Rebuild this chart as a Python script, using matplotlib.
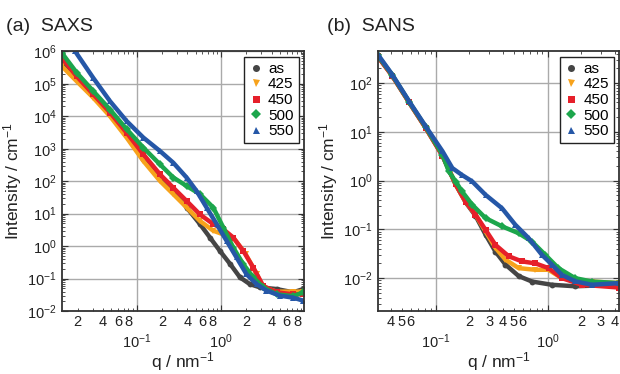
import math
import matplotlib
matplotlib.use("Agg")
import matplotlib.pyplot as plt
from matplotlib.ticker import LogLocator, FuncFormatter, LogFormatterSciNotation

plt.rcParams['font.family'] = ['Liberation Sans', 'DejaVu Sans']
plt.rcParams['mathtext.fontset'] = 'custom'
plt.rcParams['mathtext.rm'] = 'Liberation Sans'
plt.rcParams['mathtext.it'] = 'Liberation Sans:italic'

labels = ['as', '425', '450', '500', '550']
colors = ['#454545', '#f7a21b', '#e6202a', '#1ca64c', '#2557a7']
markers = ['o', 'v', 's', 'D', '^']

# ---- SAXS data (q in nm^-1, I in cm^-1)
saxs_q = {
    'as':  [0.0129, 0.0194, 0.0306, 0.0483, 0.076, 0.12, 0.189, 0.272, 0.392, 0.563, 0.74, 0.97, 1.29, 1.68, 2.2, 2.9, 4.57, 7.2, 9.5],
    '425': [0.0129, 0.0194, 0.0306, 0.0483, 0.076, 0.12, 0.189, 0.272, 0.392, 0.563, 0.81, 1.07, 1.40, 1.97, 2.65, 3.17, 4.57, 7.2, 9.5],
    '450': [0.0129, 0.0194, 0.0306, 0.0483, 0.076, 0.12, 0.189, 0.272, 0.392, 0.563, 0.81, 1.07, 1.40, 1.84, 2.42, 3.17, 4.57, 7.2, 9.5],
    '500': [0.0129, 0.0194, 0.0306, 0.0483, 0.076, 0.12, 0.189, 0.272, 0.392, 0.563, 0.81, 1.07, 1.40, 1.84, 2.42, 3.17, 4.57, 7.2, 9.5],
    '550': [0.0186, 0.0306, 0.0483, 0.076, 0.12, 0.189, 0.272, 0.392, 0.514, 0.675, 0.889, 1.17, 1.53, 2.01, 2.65, 3.47, 5.0, 7.2, 9.5],
}
saxs_i = {
    'as':  [5.0e5, 1.35e5, 4.2e4, 1.15e4, 2.45e3, 470, 129, 50, 15.5, 4.8, 1.85, 0.72, 0.28, 0.11, 0.068, 0.054, 0.048, 0.038, 0.048],
    '425': [3.5e5, 1.2e5, 3.7e4, 1.0e4, 2.2e3, 420, 102, 40, 15.5, 6.0, 3.0, 2.3, 1.85, 0.56, 0.14, 0.054, 0.040, 0.040, 0.040],
    '450': [6.3e5, 1.7e5, 4.7e4, 1.3e4, 3.1e3, 675, 163, 63, 24.6, 9.5, 4.8, 3.3, 1.85, 0.72, 0.22, 0.060, 0.038, 0.033, 0.033],
    '500': [9.0e5, 2.2e5, 5.9e4, 1.6e4, 4.0e3, 1.08e3, 330, 130, 71, 40, 15.5, 3.7, 0.91, 0.28, 0.11, 0.054, 0.033, 0.029, 0.038],
    '550': [1.0e6, 1.5e5, 2.9e4, 7.1e3, 2.2e3, 850, 370, 129, 50, 15.5, 4.8, 1.45, 0.45, 0.137, 0.068, 0.043, 0.030, 0.026, 0.021],
}

# ---- SANS data
sans_q = {
    'as':  [0.0303, 0.041, 0.058, 0.0815, 0.115, 0.151, 0.185, 0.227, 0.279, 0.342, 0.42, 0.552, 0.726, 1.09, 1.76, 4.38],
    '425': [0.0303, 0.041, 0.058, 0.0815, 0.115, 0.151, 0.185, 0.227, 0.279, 0.342, 0.42, 0.552, 0.78, 1.02, 1.34, 2.48, 4.38],
    '450': [0.0303, 0.041, 0.058, 0.0815, 0.115, 0.151, 0.185, 0.227, 0.279, 0.342, 0.45, 0.59, 0.78, 1.02, 1.34, 2.02, 4.38],
    '500': [0.0303, 0.041, 0.058, 0.0815, 0.115, 0.131, 0.151, 0.172, 0.212, 0.279, 0.392, 0.552, 0.726, 0.953, 1.25, 1.76, 2.48, 4.38],
    '550': [0.0303, 0.041, 0.058, 0.0815, 0.115, 0.141, 0.172, 0.212, 0.279, 0.392, 0.515, 0.677, 0.89, 1.09, 1.34, 1.76, 2.48, 4.38],
}
sans_i = {
    'as':  [360, 140, 40, 12, 3.3, 0.83, 0.36, 0.19, 0.078, 0.035, 0.019, 0.011, 0.0085, 0.0073, 0.0068, 0.0073],
    '425': [360, 140, 40, 12, 3.3, 0.83, 0.37, 0.20, 0.091, 0.042, 0.024, 0.016, 0.0148, 0.0148, 0.010, 0.0085, 0.0079],
    '450': [350, 140, 40, 12, 3.2, 0.83, 0.37, 0.20, 0.098, 0.048, 0.028, 0.022, 0.020, 0.016, 0.010, 0.0073, 0.0064],
    '500': [370, 145, 41, 12.5, 3.4, 1.55, 0.95, 0.60, 0.32, 0.17, 0.115, 0.083, 0.056, 0.030, 0.016, 0.010, 0.0085, 0.0079],
    '550': [390, 148, 42, 12.9, 4.0, 1.8, 1.3, 0.96, 0.51, 0.27, 0.124, 0.066, 0.030, 0.019, 0.0117, 0.0086, 0.0073, 0.0079],
}

frame = '#333333'


def minor_fmt(keep):
    def f(x, pos):
        m = x / 10 ** math.floor(math.log10(x) + 1e-9)
        d = int(round(m))
        return str(d) if d in keep and abs(m - d) < 1e-3 else ''
    return f


def setup(ax, keep, xlim, ylim):
    ax.set_xscale('log')
    ax.set_yscale('log')
    ax.set_xlim(*xlim)
    ax.set_ylim(*ylim)
    ax.xaxis.set_major_locator(LogLocator(base=10, numticks=20))
    ax.xaxis.set_minor_locator(LogLocator(base=10, subs=range(2, 10), numticks=20))
    ax.xaxis.set_minor_formatter(FuncFormatter(minor_fmt(keep)))
    ax.xaxis.set_major_formatter(LogFormatterSciNotation())
    ax.yaxis.set_major_locator(LogLocator(base=10, numticks=20))
    ax.yaxis.set_minor_locator(LogLocator(base=10, subs=range(2, 10), numticks=20))
    ax.yaxis.set_minor_formatter(FuncFormatter(lambda x, p: ''))
    ax.grid(True, which='major', color='#aaaaaa', linewidth=1.0)
    ax.set_axisbelow(True)
    ax.tick_params(which='both', direction='in', top=True, right=True,
                   colors=frame, labelcolor='#222222', labelsize=10.5)
    ax.tick_params(which='major', length=4, width=0.8)
    ax.tick_params(which='minor', length=2, width=0.6)
    ax.tick_params(axis='x', which='major', pad=15)
    ax.tick_params(axis='x', which='minor', pad=3)
    for s in ax.spines.values():
        s.set_color(frame)
        s.set_linewidth(1.3)
    ax.set_xlabel('q / nm$^{-1}$', fontsize=12.5, color='#222222')
    ax.xaxis.set_label_coords(0.5, -0.15)
    ax.set_ylabel('Intensity / cm$^{-1}$', fontsize=12.5, color='#222222', labelpad=2)


fig = plt.figure(figsize=(6.2, 3.74), dpi=100)
ax1 = fig.add_axes([0.0995, 0.168, 0.391, 0.695])
ax2 = fig.add_axes([0.609, 0.168, 0.390, 0.695])

for ax, qd, idict in [(ax1, saxs_q, saxs_i), (ax2, sans_q, sans_i)]:
    for lab, c, m in zip(labels, colors, markers):
        ax.plot(qd[lab], idict[lab], color=c, linewidth=3.2, marker=m,
                markersize=4.2, markeredgewidth=0, label=lab)

setup(ax1, {2, 4, 6, 8}, (0.0129, 9.7), (1e-2, 1e6))
setup(ax2, {2, 3, 4, 5, 6}, (0.0303, 4.38), (2.1e-3, 447))

for ax in (ax1, ax2):
    leg = ax.legend(loc='upper right', fontsize=11, frameon=True, fancybox=False,
                    handlelength=0.8, handletextpad=0.4, labelspacing=0.1,
                    borderpad=0.35, borderaxespad=0.35, markerscale=1.2,
                    framealpha=1.0)
    leg.get_frame().set_edgecolor('#222222')
    leg.get_frame().set_linewidth(1.0)
    for h in leg.legend_handles:
        h.set_linestyle('none')

fig.text(0.010, 0.918, '(a)  SAXS', fontsize=14, color='#222222')
fig.text(0.528, 0.918, '(b)  SANS', fontsize=14, color='#222222')

fig.savefig('out.png', dpi=100)
